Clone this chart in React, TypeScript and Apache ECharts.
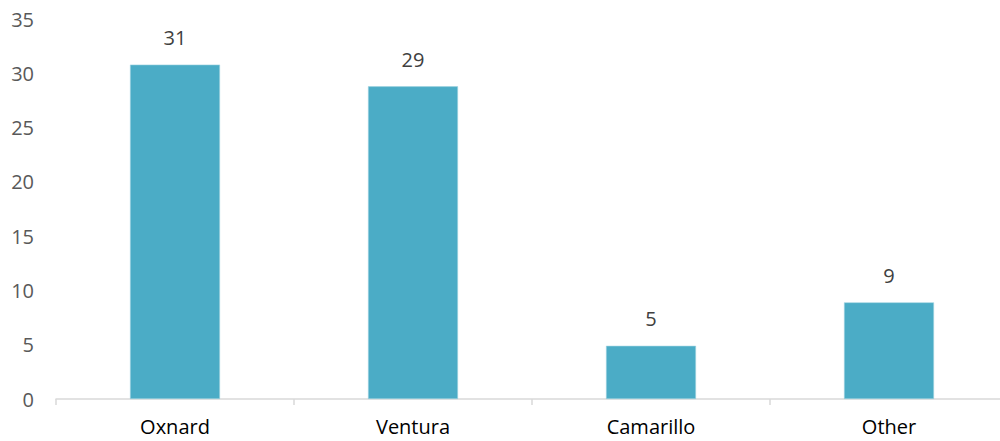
import React, { useEffect, useRef } from "react";
import * as echarts from "echarts";

const categories = ["Oxnard", "Ventura", "Camarillo", "Other"];
const values = [30.8, 28.8, 4.9, 8.9];
const yMin = 0;
const yMax = 35;
const yInterval = 5;

export default function App() {
  const ref = useRef<HTMLDivElement>(null);
  useEffect(() => {
    if (!ref.current) return;
    const chart = echarts.init(ref.current, undefined, { renderer: "svg" });
    chart.setOption({
      animation: false,
      grid: { left: 56, top: 19, bottom: 42, right: -8, outerBoundsMode: "none", containLabel: false },
      xAxis: {
        type: "category",
        data: categories,
        axisLine: { lineStyle: { color: "#d9d9d9", width: 1.5 } },
        axisTick: { show: true, length: 6, lineStyle: { color: "#d9d9d9", width: 1.5 } },
        axisLabel: { color: "#000000", fontSize: 20, fontFamily: "Open Sans", margin: 17 },
      },
      yAxis: {
        type: "value",
        min: yMin,
        max: yMax,
        interval: yInterval,
        axisLine: { show: false },
        axisTick: { show: false },
        splitLine: { show: false },
        axisLabel: { color: "#595959", fontSize: 20, fontFamily: "Open Sans", margin: 22 },
      },
      series: [
        {
          type: "bar",
          data: values,
          barWidth: 90,
          itemStyle: { color: "#4BACC6", borderColor: "#9fd3e0", borderWidth: 0.6 },
          label: {
            show: true,
            position: "top",
            distance: 17,
            color: "#404040",
            fontSize: 20,
            fontFamily: "Open Sans",
            formatter: (p: any) => String(Math.round(p.value)),
          },
        },
      ],
    });
    return () => chart.dispose();
  }, []);
  return <div ref={ref} style={{ width: 1000, height: 441, position: "absolute", left: 0, top: 0 }} />;
}
